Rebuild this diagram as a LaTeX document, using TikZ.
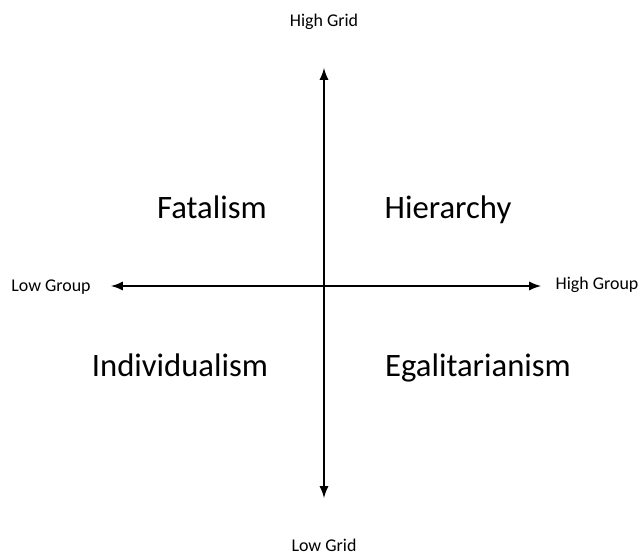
\documentclass[tikz,border=0pt]{standalone}
\usepackage{fontspec}
\setmainfont{Carlito}
\usetikzlibrary{arrows}
\tikzstyle{axis}=[<->, >=latex, line width=1.3pt]
\tikzstyle{endlabel}=[font=\fontsize{10.2}{12}\selectfont]
\tikzstyle{quad}=[anchor=base, font=\fontsize{18.6}{22}\selectfont]

\begin{document}
\begin{tikzpicture}[x=0.02cm,y=-0.02cm]
\useasboundingbox (0,0) rectangle (641,560);
\node[endlabel] (HG) at (324,22) {High Grid};
\node[endlabel] (LG) at (324,545) {Low Grid};
\node[endlabel] (Lo) at (51,287) {Low Group};
\node[endlabel] (Hi) at (597,285) {High Group};
\coordinate (T) at (324,68);
\coordinate (B) at (324,498);
\coordinate (L) at (111,286);
\coordinate (R) at (541,286);
\draw[axis](B)--(T);
\draw[axis](L)--(R);
\node[quad] (F) at (212,218) {Fatalism};
\node[quad] (H) at (448,218) {Hierarchy};
\node[quad] (I) at (180,376) {Individualism};
\node[quad] (E) at (478,376) {Egalitarianism};
\end{tikzpicture}
\end{document}
